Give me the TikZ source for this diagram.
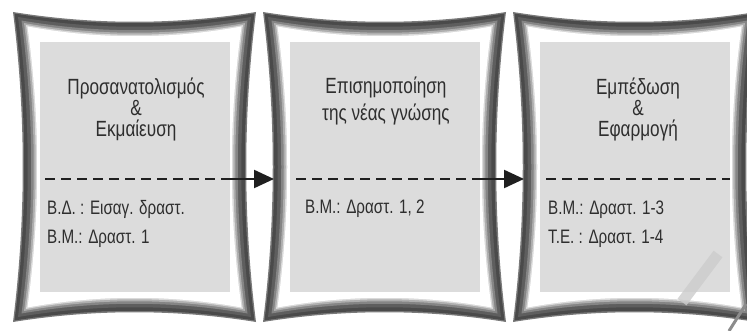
\documentclass[tikz,border=0pt]{standalone}
\usepackage{fontspec}
\setmainfont{Liberation Sans}[FakeStretch=0.78]
\usetikzlibrary{arrows.meta}
\definecolor{txt}{HTML}{2E2E2E}
\definecolor{innergray}{HTML}{DCDCDC}
\definecolor{fr0}{HTML}{7A7A7A}
\definecolor{fr1}{HTML}{4A4A4A}
\definecolor{fr2}{HTML}{5E5E5E}
\definecolor{fr3}{HTML}{858585}
\definecolor{fr4}{HTML}{AEAEAE}
\definecolor{fr5}{HTML}{DADADA}
\newcommand\pillowfill[3]{%
  \pgfmathsetmacro\pxl{#1+#2}%
  \pgfmathsetmacro\pxr{#1+243-#2}%
  \pgfmathsetmacro\pyt{12+#2}%
  \pgfmathsetmacro\pyb{322-#2}%
  \pgfmathsetmacro\pw{(\pxr-\pxl)/3}%
  \pgfmathsetmacro\ph{(\pyb-\pyt)/3}%
  \fill[#3] (\pxl,\pyt) .. controls (\pxl+\pw,\pyt+13) and (\pxr-\pw,\pyt+13) .. (\pxr,\pyt)
    .. controls (\pxr-13,\pyt+\ph) and (\pxr-13,\pyb-\ph) .. (\pxr,\pyb)
    .. controls (\pxr-\pw,\pyb-13) and (\pxl+\pw,\pyb-13) .. (\pxl,\pyb)
    .. controls (\pxl+13,\pyb-\ph) and (\pxl+13,\pyt+\ph) .. (\pxl,\pyt) -- cycle;}
\newcommand\pillowbox[1]{%
  \pillowfill{#1}{0}{fr0}%
  \pillowfill{#1}{1.5}{fr1}%
  \pillowfill{#1}{5}{fr2}%
  \pillowfill{#1}{8.5}{fr3}%
  \pillowfill{#1}{11}{fr4}%
  \pillowfill{#1}{13}{fr5}%
  \pillowfill{#1}{14.5}{white}%
  \fill[innergray] (#1+27,42) rectangle (#1+217,292);}
\tikzset{
  title/.style={text=txt, align=center, inner sep=0pt},
  info/.style={text=txt, align=left, anchor=west, inner sep=0pt},
  dashline/.style={draw=black!88, line width=2.2pt, dash pattern=on 10pt off 6pt},
  arrowline/.style={draw=black!88, line width=2.2pt, -{Triangle[length=20pt,width=18pt]}},
}
\begin{document}
\begin{tikzpicture}[x=1pt,y=-1pt]
\useasboundingbox (0,0) rectangle (747,331);
\fill[white] (0,0) rectangle (747,331);
\pillowbox{13}
\pillowbox{263}
\pillowbox{513}
% coordinates for connectors
\coordinate (d1s) at (45,179);
\coordinate (d1e) at (226,179);
\coordinate (a1) at (274,179);
\coordinate (d2s) at (296,179);
\coordinate (d2e) at (476,179);
\coordinate (a2) at (524,179);
\coordinate (d3s) at (546,179);
\coordinate (d3e) at (730,179);
\draw[dashline] (d1s) -- (d1e);
\draw[arrowline] (d1e) -- (a1);
\draw[dashline] (d2s) -- (d2e);
\draw[arrowline] (d2e) -- (a2);
\draw[dashline] (d3s) -- (d3e);
% texts
\node[title, font=\fontsize{22}{21}\selectfont] (t1) at (136,109) {Προσανατολισμός\\\&\\Εκμαίευση};
\node[title, font=\fontsize{22}{27}\selectfont] (t2) at (386,101) {Επισημοποίηση\\της νέας γνώσης};
\node[title, font=\fontsize{22}{21}\selectfont] (t3) at (638,109) {Εμπέδωση\\\&\\Εφαρμογή};
\node[info, font=\fontsize{19.5}{29}\selectfont] (b1) at (47,224) {Β.Δ. : Εισαγ. δραστ.\\Β.Μ.: Δραστ. 1};
\node[info, font=\fontsize{19.5}{29}\selectfont] (b2) at (305,209) {Β.Μ.: Δραστ. 1, 2};
\node[info, font=\fontsize{19.5}{29}\selectfont] (b3) at (548,224) {Β.Μ.: Δραστ. 1-3\\Τ.Ε. : Δραστ. 1-4};
% watermark fragments
\draw[black!20, line width=11pt, opacity=0.8] (682,302) -- (718,254);
\draw[black!45, line width=3pt] (729,331) -- (746,304);
\end{tikzpicture}
\end{document}
